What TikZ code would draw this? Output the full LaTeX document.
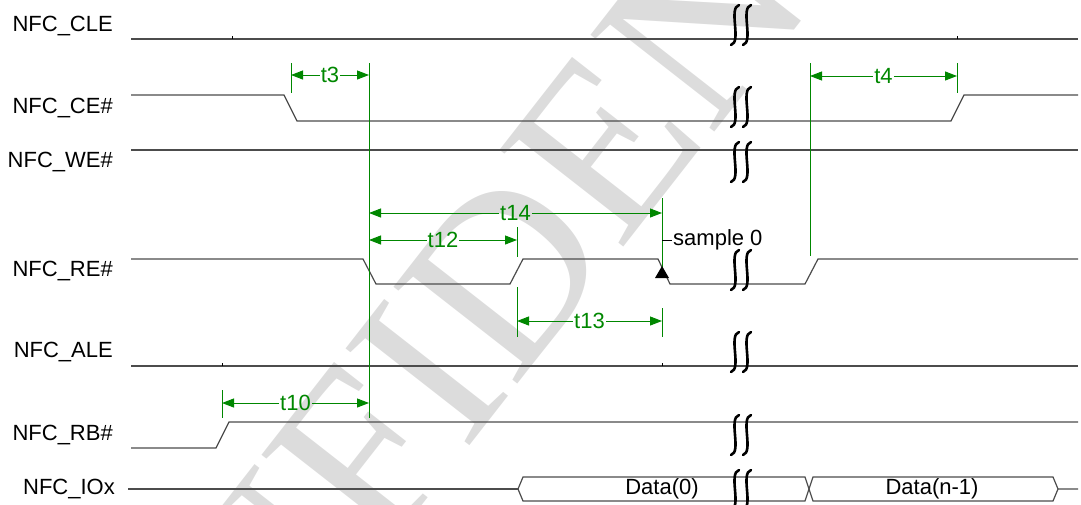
\documentclass[tikz,border=0pt]{standalone}
\usepackage{fontspec}
\setmainfont{Liberation Sans}
\newfontfamily\markfont{Liberation Serif}
\usepackage{xcolor}
\usepackage{tikz}
\usetikzlibrary{arrows.meta}
\usetikzlibrary{positioning}
\definecolor{dimgreen}{RGB}{0,135,0}
\definecolor{markgray}{RGB}{220,220,220}

\begin{document}
\begin{tikzpicture}[x=1pt,y=-1pt,
  every node/.style={font=\fontsize{22}{25}\selectfont},
  signame/.style={anchor=east,inner sep=0pt},
  sig/.style={draw=black!70,line width=1.2pt},
  guide/.style={draw=dimgreen,line width=1pt},
  dimarrow/.style={draw=dimgreen,line width=1pt,-{Triangle[length=12pt,width=9pt]}},
  dimlabel/.style={text=dimgreen,inner sep=1pt},
  brk/.style={line width=2.6pt,line cap=round}]
\useasboundingbox (0,0) rectangle (1081,504);

% watermark
\node[text=markgray,rotate=52,font=\markfont\fontsize{240}{240}\selectfont] (mark) at (550,215) {CONFIDENTIAL};

% signal names
\node[signame] (cle) at (113,26) {NFC\_CLE};
\node[signame] (ce) at (113,108) {NFC\_CE\#};
\node[signame] (we) at (113,162) {NFC\_WE\#};
\node[signame] (re) at (113,271) {NFC\_RE\#};
\node[signame] (ale) at (113,352) {NFC\_ALE};
\node[signame] (rb) at (113,435) {NFC\_RB\#};
\node[signame] (io) at (115,489) {NFC\_IOx};

% waveforms
\draw[sig] (131,39) -- (1078,39);
\draw[sig] (131,95) -- (284,95) -- (297,121) -- (951,121) -- (964,95) -- (1078,95);
\draw[sig] (131,150) -- (1078,150);
\draw[sig] (131,259) -- (363,259) -- (376,284) -- (510,284) -- (523,259) -- (658,259)
  -- (670,284) -- (805,284) -- (818,259) -- (1078,259);
\draw[sig] (131,366) -- (1078,366);
\draw[sig] (131,448) -- (216,448) -- (229,422) -- (1078,422);
\draw[sig] (128,489) -- (518,489);
\draw[sig] (518,489) -- (523,477) -- (805,477) -- (813,501) -- (1053,501) -- (1058,489) -- (1078,489);
\draw[sig] (518,489) -- (523,501) -- (805,501) -- (813,477) -- (1053,477) -- (1058,489);
\node (d0) at (662,489) {Data(0)};
\node (dn) at (932,489) {Data(n-1)};

% grid ticks
\foreach \x/\y in {232/39,957/39,222/366,662/366}
  \draw[black,line width=0.6pt] (\x,\y) -- (\x,\y-3);

% break marks
\foreach \y in {25,107,162,270,352,435,490}
  \foreach \x in {735,747}
    \draw[brk] (\x+4,\y-20) .. controls (\x-7,\y-17) and (\x+7,\y+17) .. (\x-4,\y+20);

% guide lines
\draw[guide] (291,63) -- (291,93);
\draw[guide] (369,63) -- (369,418);
\draw[guide] (810,63) -- (810,256);
\draw[guide] (957,63) -- (957,93);
\draw[guide] (662,198) -- (662,272);
\draw[guide] (662,308) -- (662,337);
\draw[guide] (517,227) -- (517,257);
\draw[guide] (517,287) -- (517,337);
\draw[guide] (222,390) -- (222,418);

% timings
\foreach \n/\a/\b/\y in {t3/291/369/75,t4/810/957/76,t14/369/662/213,
    t12/369/517/240,t13/517/662/321,t10/222/369/403}{
  \coordinate (\n-l) at (\a,\y);
  \coordinate (\n-r) at (\b,\y);
  \node[dimlabel] (\n) at ({(\a+\b)/2},\y) {\n};
  \draw[dimarrow] (\n) -- (\n-l);
  \draw[dimarrow] (\n) -- (\n-r);
}

% sample point
\fill (662,266) -- (655,278) -- (669,278) -- cycle;
\node[anchor=west,inner sep=1pt] (s0) at (672,240) {sample 0};
\coordinate (s0-tick) at (662,240);
\draw[black,line width=0.8pt] (s0-tick) -- (s0.west);
\end{tikzpicture}
\end{document}
